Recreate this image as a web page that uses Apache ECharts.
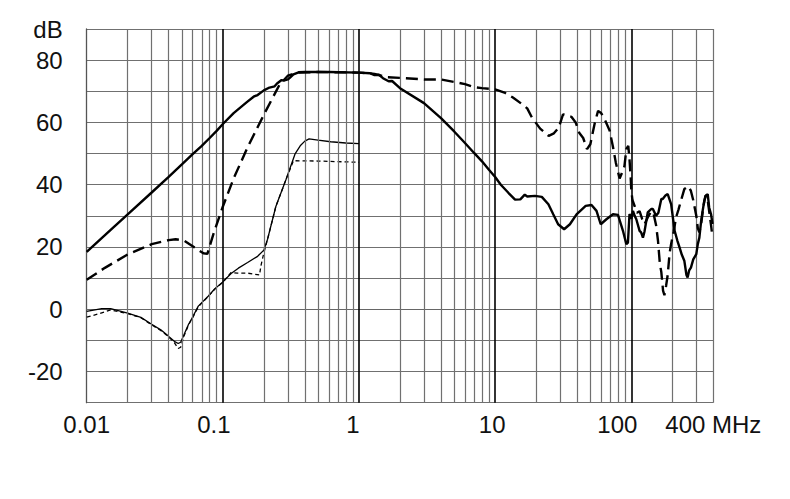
<!DOCTYPE html>
<html><head><meta charset="utf-8">
<script src="https://cdn.jsdelivr.net/npm/echarts@6/dist/echarts.min.js"></script>
<style>html,body{margin:0;padding:0;background:#fff}#c{width:790px;height:499px}</style>
</head><body><div id="c"></div>
<script>
// x tick labels (MHz, log axis) and their horizontal nudges (px, negative = left)
const xTickValues = [0.01, 0.1, 1, 10, 100, 400];
const xTickLabels = ['0.01', '0.1', '1', '10', '100', '400 MHz'];
const xTickShift = [0, -9, -6, -3, -14, 0];
// decade and minor vertical grid positions
const decadeLines = [0.1, 1, 10, 100];
const minorLines = [0.02,0.03,0.04,0.05,0.06,0.07,0.08,0.09,
  0.2,0.3,0.4,0.5,0.6,0.7,0.8,0.9,
  2,3,4,5,6,7,8,9,
  20,30,40,50,60,70,80,90,
  200,300,400];
// y ticks
const yMin = -30, yMax = 90, yStep = 10;

// thick solid curve [MHz, dB]
const thickSolid = [[0.01,18.4],[0.015,25.5],[0.02,30.5],[0.03,37.5],[0.04,42.5],[0.05,46.5],[0.06,49.8],[0.07,52.5],[0.08,55],[0.09,57.3],[0.1,59.5],[0.12,63],[0.15,66.5],[0.17,68.4],[0.18,68.8],[0.2,70.3],[0.22,71.2],[0.24,71.6],[0.25,72.5],[0.27,73.6],[0.28,73.4],[0.3,73.8],[0.31,74.3],[0.33,75.4],[0.36,76.1],[0.4,76.2],[0.6,76.2],[1.0,76],[1.2,75.8],[1.3,75.2],[1.4,75.3],[1.5,74.2],[1.65,73.2],[1.75,73.3],[2,71],[3,66.2],[4,61.4],[5,57.1],[6,53.4],[7,50.2],[8,47.5],[9,44.8],[10,42.5],[11,40],[12.5,37.4],[14,35.2],[15.3,35.3],[16.5,36.8],[17.2,36.2],[19.6,36.4],[22,36.1],[24.6,33.7],[26.7,30.5],[29,27.3],[32.1,25.7],[35.4,27.3],[39.6,30.5],[46.2,33.2],[51,33.5],[55.5,31.6],[59.6,27.3],[65.6,28.9],[73.3,30.5],[79.8,30.3],[86.8,25.2],[91.9,20.9],[94.4,21.4],[97,30.6],[100,29],[102.8,31.6],[105.8,30],[108.8,28.9],[115,25.2],[118,24.7],[121.7,23],[125,25],[132,31.1],[140,32.2],[144,32.2],[152,30],[158,31],[166,35.4],[170,35.4],[178,36.5],[185,37],[196,33.8],[208,25.2],[218,22],[226,19.9],[235,17.5],[245,15.6],[254,11],[259,10.2],[266,12.5],[274,13.4],[285,16],[300,17.7],[308,21],[316,23],[325,28],[334,31.6],[344,35],[353,36.5],[364,37],[373,32.7],[385,30.5],[395,27.4]];

// thick dashed curve [MHz, dB]
const thickDashed = [[0.01,9.5],[0.0136,13.3],[0.02,17.6],[0.03,20.9],[0.04,22.2],[0.045,22.5],[0.052,22],[0.062,19.8],[0.072,18],[0.077,17.8],[0.085,24],[0.1,33],[0.12,42],[0.15,51.5],[0.2,62.5],[0.26,72],[0.3,75],[0.35,76],[0.5,76.2],[1.0,76],[1.3,75.6],[1.6,74.5],[2,74.3],[3,73.8],[4,73.8],[5,73],[6,72.3],[7,71.3],[8,71],[10,70.6],[11.7,69.6],[13.5,68],[15.6,66],[17.2,64.5],[18.6,61.6],[21.4,58],[24.7,55.7],[27,56.5],[29.3,58.3],[31.5,62.6],[36.3,61.8],[39,60],[41.4,56.7],[44.3,55],[47.3,51.4],[50,53],[54,60],[57,63.7],[60,63],[63,61.5],[69.4,57.3],[73.4,52],[77,47],[82,42],[86.7,44.5],[89,46],[92,51.5],[95,52.5],[97,48],[99,42],[100,38],[102,35],[106,33],[110,31],[115,31.5],[120,29],[125,27.3],[132,29.5],[140,31.5],[146,30.5],[152,27],[157,22],[162,14.6],[166,12],[171,6],[175,4.5],[180,7.5],[185,11],[191,18],[196,21],[205,25],[213,29.5],[222,32],[232,35],[245,38.6],[262,39.5],[274,38],[285,35],[300,30],[308,26],[316,24.7],[325,27],[338,33],[350,36.5],[360,36.5],[373,31.5],[385,27],[395,23]];

// thin solid curve [MHz, dB]
const thinSolid = [[0.01,-0.7],[0.0129,0.2],[0.015,0.2],[0.02,-1.2],[0.025,-2.6],[0.03,-4.8],[0.035,-6.6],[0.04,-8.7],[0.044,-10.3],[0.047,-11],[0.049,-10.6],[0.052,-8],[0.056,-4.8],[0.06,-2.5],[0.066,1],[0.078,4.2],[0.087,6.5],[0.1,8.8],[0.115,11.5],[0.13,13.2],[0.152,15],[0.18,17],[0.2,19],[0.213,22.5],[0.245,33],[0.29,41.5],[0.34,50],[0.37,52.5],[0.4,54],[0.43,54.7],[0.5,54.3],[0.62,53.8],[0.8,53.4],[1.0,53.2]];

// thin dotted curve [MHz, dB]
const thinDotted = [[0.01,-2.5],[0.0122,-1.5],[0.015,-0.2],[0.02,-1.4],[0.025,-2.7],[0.03,-5],[0.035,-6.8],[0.04,-8.9],[0.044,-10.7],[0.047,-12.6],[0.049,-12.2],[0.052,-8.4],[0.056,-5],[0.06,-2.7],[0.066,0.8],[0.078,4.1],[0.087,6.4],[0.1,8.7],[0.115,11.8],[0.128,11.6],[0.152,11.6],[0.186,11],[0.19,13.8],[0.2,18.1],[0.213,22.5],[0.245,33],[0.29,41.5],[0.33,47.7],[0.5,47.6],[1.0,47.2]];

const FONT = 'Liberation Sans, Arial, sans-serif';
const rich = {};
xTickShift.forEach(function (s, i) {
  rich['s' + i] = { fontSize: 24, fontFamily: FONT, color: '#111', padding: [0, -2 * s, 0, 0] };
});

function xLabel(v) {
  let best = 0, bd = Infinity;
  for (let i = 0; i < xTickValues.length; i++) {
    const d = Math.abs(Math.log10(v) - Math.log10(xTickValues[i]));
    if (d < bd) { bd = d; best = i; }
  }
  if (bd > 0.02) return '';
  return '{s' + best + '|' + xTickLabels[best] + '}';
}

function vLines(vals, color, width) {
  return {
    type: 'line', data: [[0.01, -1000]], symbol: 'none', z: 1, silent: true,
    lineStyle: { opacity: 0 },
    markLine: {
      silent: true, symbol: 'none', animation: false,
      label: { show: false },
      lineStyle: { color: color, width: width, type: 'solid' },
      emphasis: { disabled: true },
      data: vals.map(function (v) { return { xAxis: v }; })
    }
  };
}

function curve(data, width, type, z) {
  return {
    type: 'line', data: data, symbol: 'none', showSymbol: false, z: z,
    lineStyle: { color: '#000', width: width, type: type },
    emphasis: { disabled: true }, clip: true
  };
}

const chart = echarts.init(document.getElementById('c'), null, { renderer: 'svg' });
chart.setOption({
  animation: false,
  backgroundColor: '#fff',
  grid: { left: 86.7, right: 76.7, top: 29, bottom: 96.3, containLabel: false },
  xAxis: {
    type: 'log', logBase: 10, min: 0.01, max: 400,
    axisLine: { show: true, lineStyle: { color: '#666', width: 1.2 } },
    axisTick: { show: false },
    splitLine: { show: false },
    minorTick: { show: false }, minorSplitLine: { show: false },
    axisLabel: { formatter: xLabel, rich: rich, fontSize: 24, fontFamily: FONT, color: '#111', margin: 10, showMinLabel: true, showMaxLabel: true, hideOverlap: false }
  },
  yAxis: {
    type: 'value', min: yMin, max: yMax, interval: yStep,
    axisLine: { show: true, lineStyle: { color: '#555', width: 1.3 } },
    axisTick: { show: false },
    splitLine: { show: true, lineStyle: { color: '#707070', width: 1.2 } },
    axisLabel: {
      fontSize: 24, fontFamily: FONT, color: '#111', margin: 24, padding: [9, 0, 0, 0],
      formatter: function (v) { return v === yMax ? 'dB' : (v % 20 === 0 ? String(v) : ''); }
    }
  },
  series: [
    vLines(minorLines, '#707070', 1.2),
    vLines(decadeLines, '#000', 1.6),
    curve(thinDotted, 1.3, [4, 3], 3),
    curve(thinSolid, 1.3, 'solid', 4),
    curve(thickDashed, 2.4, [12, 6], 5),
    curve(thickSolid, 2.4, 'solid', 6)
  ]
});
</script></body></html>
